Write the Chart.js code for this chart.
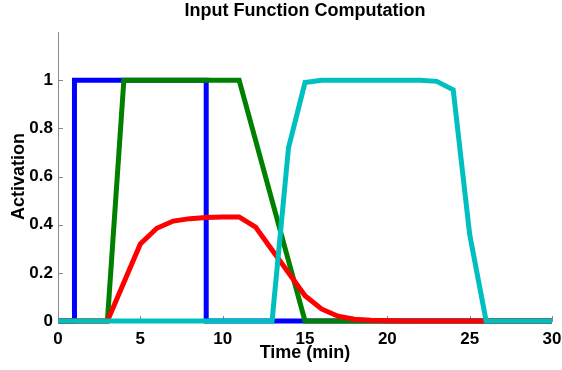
<!DOCTYPE html>
<html>
<head>
<meta charset="utf-8">
<script src="https://cdn.jsdelivr.net/npm/chart.js@4"></script>
<style>
  html, body { margin: 0; padding: 0; background: #ffffff; }
  #wrap { width: 562px; height: 370px; }
</style>
</head>
<body>
<div id="wrap"><canvas id="c" width="562" height="370"></canvas></div>
<script>
// ---- data ----
const times = [0,1,2,3,4,5,6,7,8,9,10,11,12,13,14,15,16,17,18,19,20,21,22,23,24,25,26,27,28,29,30];
const blueTimes  = [0, 1, 1, 9, 9, 30];
const blueValues = [0, 0, 1, 1, 0, 0];
const greenValues = [0,0,0,0,1,1,1,1,1,1,1,1,0.75,0.5,0.25,0,0,0,0,0,0,0,0,0,0,0,0,0,0,0,0];
const redValues   = [0,0,0,0,0.16,0.32,0.385,0.415,0.425,0.43,0.432,0.432,0.39,0.295,0.2,0.105,0.05,0.02,0.007,0.003,0.001,0,0,0,0,0,0,0,0,0,0];
const cyanValues  = [0,0,0,0,0,0,0,0,0,0,0,0,0,0,0.72,0.99,1,1,1,1,1,1,1,0.995,0.96,0.36,0,0,0,0,0];
const xTicks = [0, 5, 10, 15, 20, 25, 30];
const yTicks = [0, 0.2, 0.4, 0.6, 0.8, 1];
const titleText = 'Input Function Computation';
const xLabel = 'Time (min)';
const yLabel = 'Activation';

function pts(xs, ys) { return xs.map((x, i) => ({ x: x, y: ys[i] })); }

const FONT = '"Liberation Sans", Arial, sans-serif';
const AXIS_GRAY = '#8a8a8a';

// MATLAB-style inward tick marks, placed with the chart's own scales
const innerTicks = {
  id: 'innerTicks',
  beforeDatasetsDraw(chart) {
    const ctx = chart.ctx;
    const xs = chart.scales.x, ys = chart.scales.y;
    const a = chart.chartArea;
    ctx.save();
    ctx.strokeStyle = AXIS_GRAY;
    ctx.lineWidth = 1;
    ctx.beginPath();
    yTicks.forEach(v => {
      const y = Math.round(ys.getPixelForValue(v)) + 0.5;
      ctx.moveTo(a.left, y); ctx.lineTo(a.left + 5, y);
    });
    xTicks.forEach(v => {
      const x = Math.round(xs.getPixelForValue(v)) + 0.5;
      ctx.moveTo(x, a.bottom); ctx.lineTo(x, a.bottom - 5);
    });
    ctx.stroke();
    ctx.restore();
  }
};

// centre the title over the plot area rather than the whole canvas
const centreTitle = {
  id: 'centreTitle',
  afterLayout(chart) {
    const t = chart.titleBlock;
    if (t) {
      t.left = chart.chartArea.left;
      t.right = chart.chartArea.right;
      t.width = t.right - t.left;
    }
  }
};

const common = { fill: false, pointRadius: 0, borderWidth: 5, tension: 0, clip: false };

new Chart(document.getElementById('c'), {
  type: 'line',
  data: {
    datasets: [
      Object.assign({ label: 'blue',  data: pts(blueTimes, blueValues), borderColor: '#0000ff', order: 4 }, common),
      Object.assign({ label: 'green', data: pts(times, greenValues),    borderColor: '#008000', order: 3 }, common),
      Object.assign({ label: 'red',   data: pts(times, redValues),      borderColor: '#ff0000', order: 2 }, common),
      Object.assign({ label: 'cyan',  data: pts(times, cyanValues),     borderColor: '#00bfbf', order: 1 }, common)
    ]
  },
  options: {
    responsive: false,
    animation: false,
    devicePixelRatio: 1,
    layout: { padding: { left: 0, right: 10, top: 0, bottom: 0 } },
    plugins: {
      legend: { display: false },
      tooltip: { enabled: false },
      title: {
        display: true,
        text: titleText,
        color: '#000',
        font: { family: FONT, size: 18, weight: 'bold', lineHeight: 1.2 },
        padding: { top: 0, bottom: 10.4 }
      }
    },
    scales: {
      x: {
        type: 'linear',
        min: 0, max: 30,
        grid: { display: false },
        border: { display: true, color: AXIS_GRAY, width: 1 },
        afterBuildTicks: s => { s.ticks = xTicks.map(v => ({ value: v })); },
        afterFit: s => { s.height = 49; },
        ticks: { color: '#000', padding: 0, maxRotation: 0, autoSkip: false,
                 font: { family: FONT, size: 17, weight: 'bold' },
                 callback: v => String(v) },
        title: { display: true, text: xLabel, color: '#000',
                 font: { family: FONT, size: 18, weight: 'bold', lineHeight: 1.2 },
                 padding: { top: 0, bottom: 6 } }
      },
      y: {
        type: 'linear',
        min: 0, max: 1.2,
        grid: { display: false, drawTicks: false },
        border: { display: true, color: AXIS_GRAY, width: 1 },
        afterBuildTicks: s => { s.ticks = yTicks.map(v => ({ value: v })); },
        afterFit: s => { s.width = 58; },
        ticks: { color: '#000', padding: 5, autoSkip: false,
                 font: { family: FONT, size: 17, weight: 'bold' },
                 callback: v => String(Math.round(v * 10) / 10) },
        title: { display: true, text: yLabel, color: '#000',
                 font: { family: FONT, size: 18, weight: 'bold', lineHeight: 1.2 },
                 padding: { top: 8.3, bottom: 0 } }
      }
    }
  },
  plugins: [innerTicks, centreTitle]
});
</script>
</body>
</html>
